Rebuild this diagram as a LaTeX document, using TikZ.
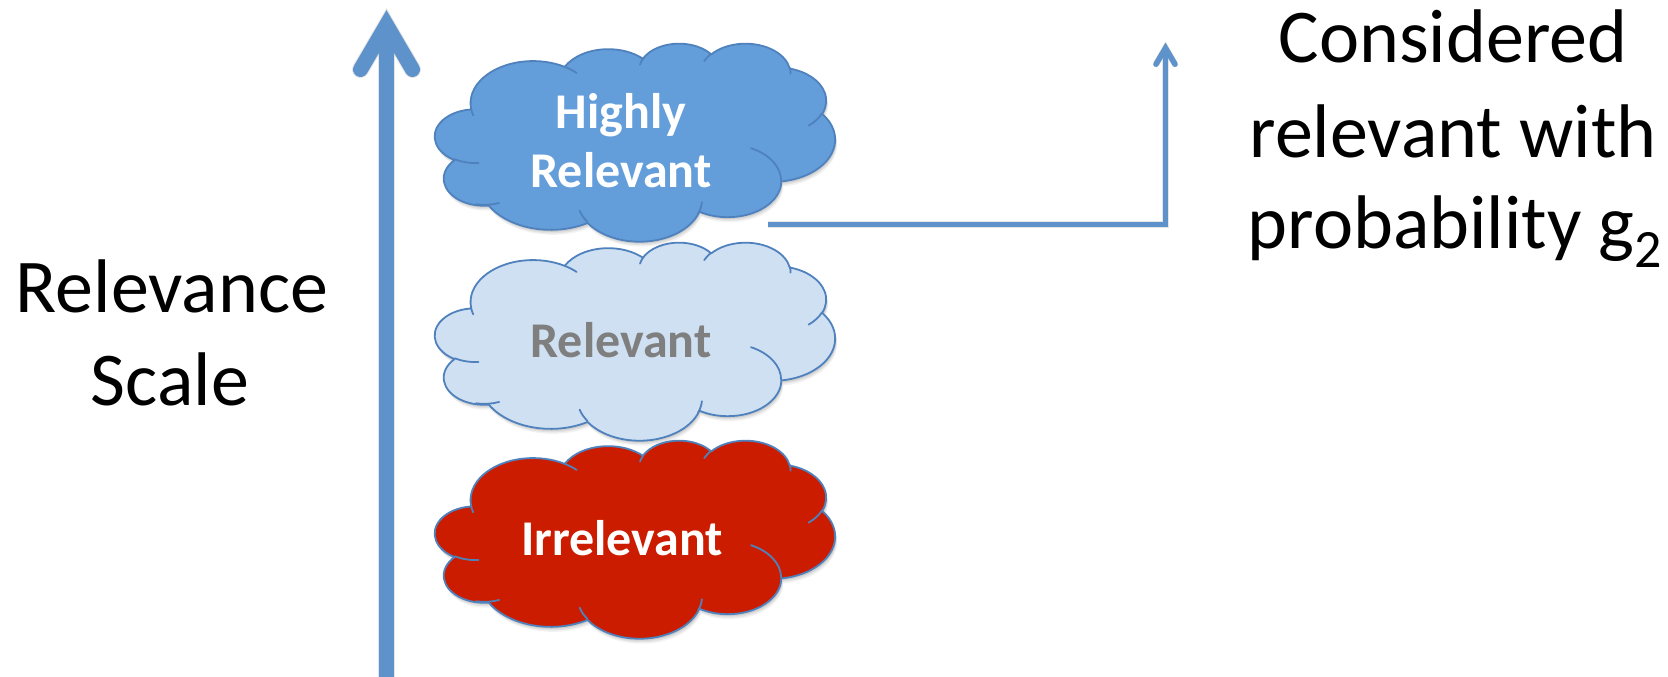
\documentclass[tikz,border=0pt]{standalone}
\usepackage{fontspec}
\setmainfont{Carlito}
\definecolor{arrowblue}{RGB}{93,146,203}
\definecolor{cloudline}{RGB}{79,129,189}
\definecolor{hifill}{RGB}{99,158,218}
\definecolor{relfill}{RGB}{207,224,242}
\definecolor{irrfill}{RGB}{204,28,0}
\definecolor{relgray}{RGB}{127,127,127}
\tikzset{
  cldarc/.style n args={4}{insert path={arc[start angle={pa(#3,#1,#2)}, end angle={pa(#3+#4,#1,#2)}, x radius=#1, y radius=#2]}},
  cloudoutline/.style={insert path={(39.00,143.70)
     [cldarc={67.53}{91.90}{-190.4875}{123.7805}]
     [cldarc={53.33}{72.67}{-144.1024}{89.9452}]
     [cldarc={43.65}{59.45}{-145.8079}{99.7230}]
     [cldarc={48.57}{65.95}{-130.9861}{117.2417}]
     [cldarc={53.33}{72.73}{-78.7089}{109.0269}]
     [cldarc={67.75}{92.20}{-46.2673}{130.2690}]
     [cldarc={57.85}{78.67}{0.6250}{114.0333}]
     [cldarc={67.52}{92.15}{22.4516}{115.1726}]
     [cldarc={77.20}{105.43}{66.2426}{75.7110}]
     [cldarc={43.60}{59.18}{-274.9421}{146.7356}]
     [cldarc={43.45}{59.45}{-246.8285}{152.5186}] -- cycle}},
  cloudcreases/.style={insert path={
     (46.93,261.77) [cldarc={43.45}{59.45}{86.7420}{26.4295}]
     (69.28,348.99) [cldarc={43.60}{59.18}{73.6105}{25.0924}]
     (164.78,390.90) [cldarc={67.52}{92.15}{137.6242}{20.5617}]
     (288.27,347.51) [cldarc={67.52}{92.15}{6.4533}{20.9180}]
     (341.29,229.54) [cldarc={57.85}{78.67}{-70.2924}{70.2924}]
     (417.98,153.54) [cldarc={53.33}{72.73}{30.3180}{27.7515}]
     (383.24,54.26) [cldarc={48.57}{65.95}{-13.7443}{14.8589}]
     (290.78,39.52) [cldarc={48.57}{65.95}{-149.1815}{18.1954}]
     (221.41,47.20) [cldarc={43.65}{59.45}{-163.4943}{17.6864}]
     (140.00,51.92) [cldarc={67.53}{91.90}{-66.7070}{12.3194}]
     (41.27,157.89) [cldarc={67.53}{91.90}{157.6544}{11.8582}]}},
  cloudbody/.style={draw=cloudline, line width=1.8pt, line join=round},
  crease/.style={draw=cloudline, line width=1.8pt, line cap=round},
  cloudbox/.style={x=1pt, y=1pt, xscale=400/432, yscale=-198/432},
  softshade/.style={fill=black, fill opacity=#1, draw=none},
  cloudtext/.style={font=\fontsize{50}{60}\selectfont\bfseries, anchor=base, inner sep=0pt},
  bigtext/.style={font=\fontsize{76}{90}\selectfont, anchor=base, inner sep=0pt},
  bigarrow/.style={draw=arrowblue, line width=15pt},
  conn/.style={draw=arrowblue, line width=5.5pt, line join=miter},
  lineshade/.style={draw=black, draw opacity=#1}
}
\newcommand{\drawrelcloud}[3]{%
  \foreach \dx/\dy/\op in {2/5/0.05, 1.5/3.5/0.07, 1/2/0.08}{
    \begin{scope}[shift={(#1+\dx,#2+\dy)}, cloudbox]
      \path[softshade=\op] [cloudoutline];
    \end{scope}}
  \begin{scope}[shift={(#1,#2)}, cloudbox]
    \path[cloudbody, fill=#3] [cloudoutline];
    \path[crease] [cloudcreases];
  \end{scope}}
\begin{document}
\begin{tikzpicture}[x=1pt, y=-1pt,
  declare function={pa(\vT,\vX,\vY)=\vT+mod(atan2(\vX*sin(\vT),\vY*cos(\vT))-\vT+540,360)-180;}]
\useasboundingbox (0,0) rectangle (1668,677);

% clouds
\drawrelcloud{435}{43}{hifill}
\drawrelcloud{435}{242}{relfill}
\drawrelcloud{435}{440}{irrfill}

\node[cloudtext, text=white] (hr1) at (621,128) {Highly};
\node[cloudtext, text=white] (hr2) at (621,187) {Relevant};
\node[cloudtext, text=relgray] (rel) at (621,357) {Relevant};
\node[cloudtext, text=white] (irr) at (622,555) {Irrelevant};

% relevance scale arrow
\coordinate (axbot) at (386.5,677);
\coordinate (axtip) at (386.5,25);
\coordinate (axl) at (360.5,69.5);
\coordinate (axr) at (412.5,69.5);
\begin{scope}[shift={(1.5,3)}]
  \draw[lineshade=0.10, line width=17pt] (axbot) -- (axtip);
  \draw[lineshade=0.10, line width=17pt, line cap=round] (axl) -- (axtip) -- (axr);
\end{scope}
\draw[bigarrow] (axbot) -- (axtip);
\draw[bigarrow, line cap=round, line join=miter] (axl) -- (axtip) -- (axr);

\node[bigtext] (rs1) at (172,312) {Relevance};
\node[bigtext] (rs2) at (170,405) {Scale};

% connector
\coordinate (cstart) at (768,224.5);
\coordinate (ccorner) at (1165.5,224.5);
\coordinate (ctip) at (1165.5,48);
\coordinate (cl) at (1156,64.2);
\coordinate (cr) at (1175,64.2);
\begin{scope}[shift={(1,2.5)}]
  \draw[lineshade=0.10, line width=6.5pt, line join=miter] (cstart) -- (ccorner) -- (ctip);
  \draw[lineshade=0.10, line width=6.5pt, line cap=round] (cl) -- (ctip) -- (cr);
\end{scope}
\draw[conn] (cstart) -- (ccorner) -- (ctip);
\draw[conn, line cap=round] (cl) -- (ctip) -- (cr);

\node[bigtext] (cr1) at (1453,63) {Considered};
\node[bigtext] (cr2) at (1453,157) {relevant with};
\node[bigtext] (cr3) at (1455,248) {probability g\raisebox{-19pt}{\fontsize{54}{60}\selectfont 2}};
\end{tikzpicture}
\end{document}
